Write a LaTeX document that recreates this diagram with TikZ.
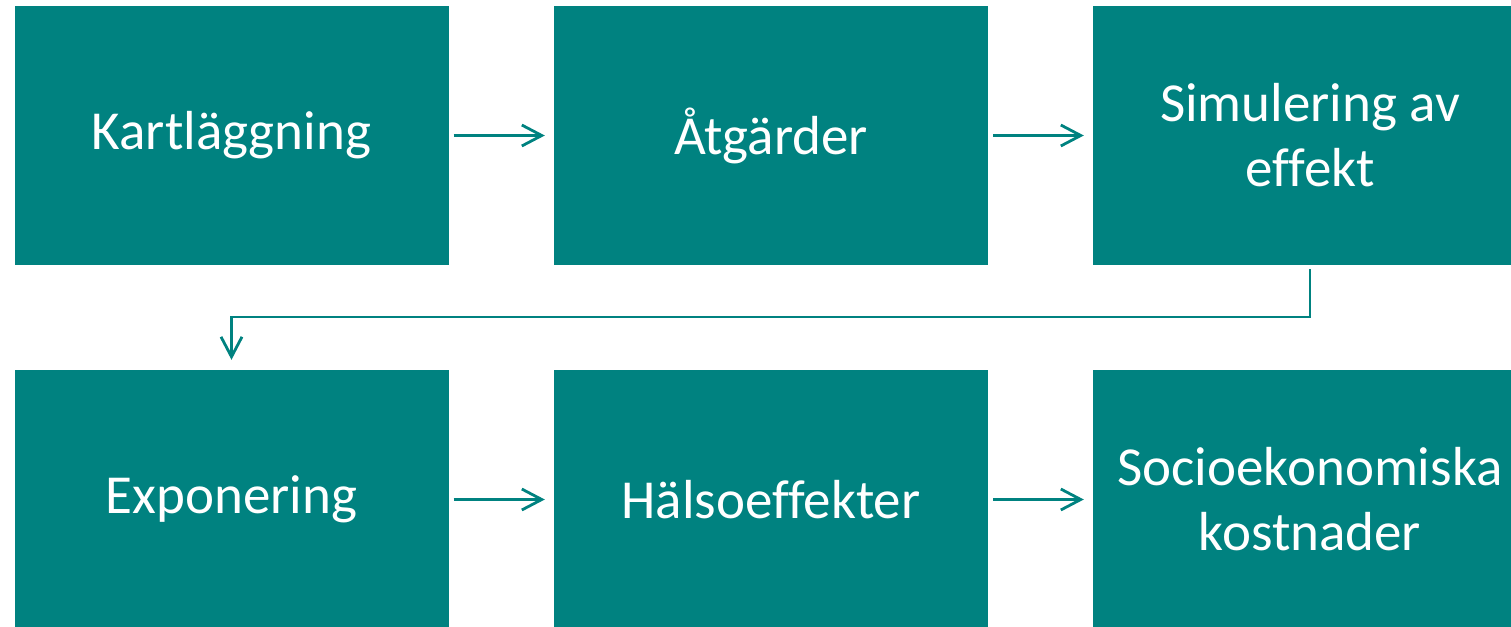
\documentclass[tikz,border=0pt]{standalone}
\usepackage{fontspec}
\setmainfont{Carlito}[Ligatures=NoCommon]
\usetikzlibrary{arrows.meta}
\definecolor{TEALbox}{RGB}{0,130,128}

\begin{document}
\begin{tikzpicture}[x=1pt, y=-1pt,
        stepbox/.style={fill=TEALbox, text=white, minimum width=434pt, minimum height=259pt,
            inner sep=0pt, align=center, font=\fontsize{55}{65}\selectfont},
        flow/.style={draw=TEALbox, line width=2.8pt,
            -{Straight Barb[length=20pt, width=21pt, line width=2.8pt]}}]
        \useasboundingbox (0,0) rectangle (1511,626);
        \clip (0,0) rectangle (1511,626);
        % top row
        \node[stepbox] (kart) at (231.5,135.5) {Kartläggning};
        \node[stepbox] (atg) at (771,135.5) {Åtgärder};
        \node[stepbox] (sim) at (1310,135.5) {Simulering av\\effekt};
        % bottom row
        \node[stepbox] (expo) at (231.5,499.5) {Exponering};
        \node[stepbox] (halsa) at (771,499.5) {Hälsoeffekter};
        \node[stepbox] (socio) at (1310,499.5) {Socioekonomiska\\kostnader};

        \draw[flow, shorten <=5pt, shorten >=9pt] (kart) -- (atg);
        \draw[flow, shorten <=5pt, shorten >=9pt] (atg) -- (sim);
        \draw[flow, shorten <=5pt, shorten >=9pt] (expo) -- (halsa);
        \draw[flow, shorten <=5pt, shorten >=9pt] (halsa) -- (socio);
        \draw[flow, line width=2.4pt, shorten <=4pt, shorten >=10pt] (sim.south) -- ++(0,52) -| (expo.north);
\end{tikzpicture}
\end{document}
